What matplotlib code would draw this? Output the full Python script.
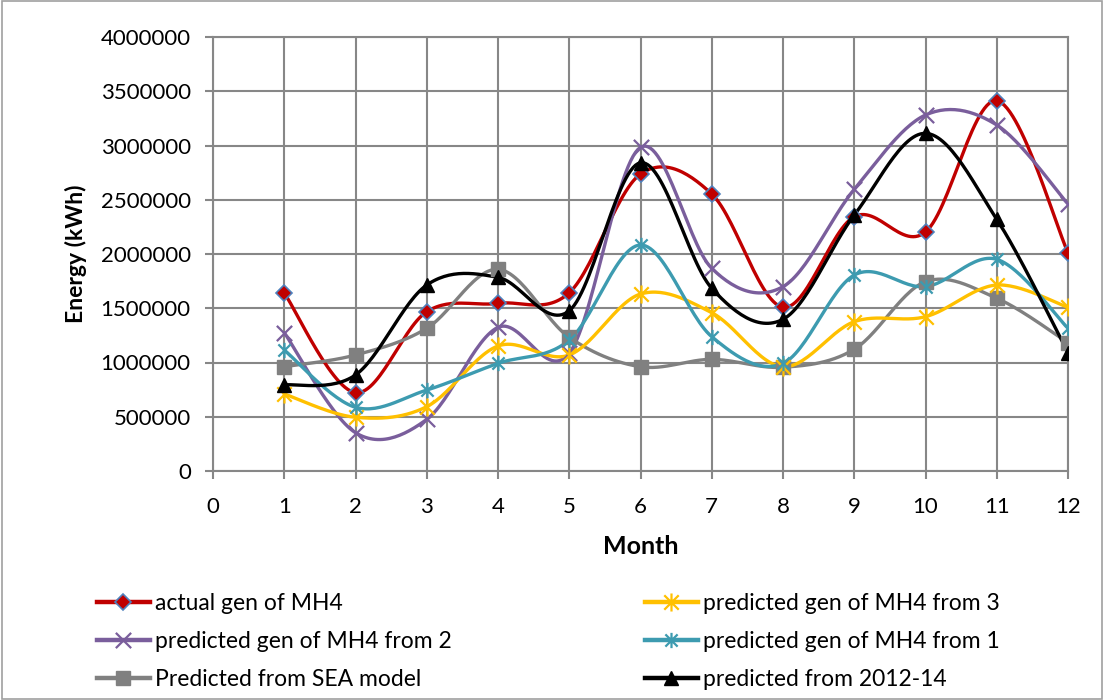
import numpy as np
import matplotlib
matplotlib.use("Agg")
import matplotlib.pyplot as plt
from matplotlib.path import Path
from matplotlib.patches import Rectangle
from matplotlib.ticker import FuncFormatter

months = list(range(1, 13))
actual_gen = [1640000, 722000, 1468000, 1545000, 1643000, 2737000, 2553000, 1509000, 2344000, 2203000, 3413000, 2012000]
pred_from_2 = [1275000, 353000, 476000, 1324000, 1085000, 2983000, 1868000, 1699000, 2596000, 3281000, 3189000, 2461000]
pred_from_3 = [710000, 495000, 593000, 1152000, 1069000, 1631000, 1459000, 961000, 1376000, 1422000, 1714000, 1509000]
pred_from_1 = [1115000, 587000, 746000, 992000, 1207000, 2083000, 1238000, 992000, 1806000, 1699000, 1951000, 1315000]
pred_sea = [961000, 1069000, 1315000, 1859000, 1232000, 961000, 1029000, 956000, 1122000, 1745000, 1592000, 1183000]
pred_2012_14 = [793000, 885000, 1714000, 1785000, 1477000, 2841000, 1684000, 1398000, 2359000, 3112000, 2320000, 1090000]

labels = ["actual gen of MH4", "predicted gen of MH4 from 2", "Predicted from SEA model",
          "predicted gen of MH4 from 3", "predicted gen of MH4 from 1", "predicted from 2012-14"]

FONT = ["Lato", "DejaVu Sans"]
plt.rcParams['font.family'] = FONT


def smooth(x, y, n=30):
    x = np.asarray(x, float)
    y = np.asarray(y, float)
    xs, ys = [x[0]], [y[0]]
    for i in range(len(x) - 1):
        p0 = np.array([x[max(i - 1, 0)], y[max(i - 1, 0)]])
        p1 = np.array([x[i], y[i]])
        p2 = np.array([x[i + 1], y[i + 1]])
        p3 = np.array([x[min(i + 2, len(x) - 1)], y[min(i + 2, len(x) - 1)]])
        c1 = p1 + (p2 - p0) / 6.0
        c2 = p2 - (p3 - p1) / 6.0
        t = np.linspace(0, 1, n)[1:]
        pts = ((1 - t) ** 3)[:, None] * p1 + (3 * (1 - t) ** 2 * t)[:, None] * c1 + \
              (3 * (1 - t) * t ** 2)[:, None] * c2 + (t ** 3)[:, None] * p2
        xs.extend(pts[:, 0]); ys.extend(pts[:, 1])
    return np.array(xs), np.array(ys)


star_path = Path([(-1, -1), (1, 1), (-1, 1), (1, -1), (0, -1.25), (0, 1.25)],
                 [Path.MOVETO, Path.LINETO, Path.MOVETO, Path.LINETO, Path.MOVETO, Path.LINETO])
x_path = Path([(-1, -1), (1, 1), (-1, 1), (1, -1)],
              [Path.MOVETO, Path.LINETO, Path.MOVETO, Path.LINETO])

fig = plt.figure(figsize=(11.04, 7.0), dpi=100)
ax = fig.add_axes([213 / 1104, 1 - 471 / 700, (1068 - 213) / 1104, (471 - 37) / 700])

series = [
    (actual_gen, "#C00000", dict(marker="D", ms=8, mfc="#C00000", mec="#4F81BD", mew=1.2)),
    (pred_from_2, "#7A5E9C", dict(marker=x_path, ms=11, mfc="none", mec="#7A5E9C", mew=1.6)),
    (pred_sea, "#808080", dict(marker="s", ms=10, mfc="#808080", mec="#808080")),
    (pred_from_3, "#FFC000", dict(marker=star_path, ms=13, mfc="none", mec="#FFC000", mew=1.6)),
    (pred_from_1, "#3D9BB0", dict(marker=star_path, ms=11, mfc="none", mec="#3D9BB0", mew=1.6)),
    (pred_2012_14, "#000000", dict(marker="^", ms=10, mfc="#000000", mec="#000000")),
]

handles = []
for (vals, col, mk), lab in zip(series, labels):
    xs, ys = smooth(months, vals)
    ax.plot(xs, ys, color=col, lw=2.4, solid_capstyle="round", zorder=3)
    ax.plot(months, vals, ls="none", zorder=4, **mk)
    h, = ax.plot([], [], color=col, lw=3.2, label=lab, **mk)
    handles.append(h)

ax.set_xlim(0, 12)
ax.set_ylim(0, 4000000)
ax.set_xticks(range(0, 13))
ax.set_yticks(np.arange(0, 4000001, 500000))
ax.yaxis.set_major_formatter(FuncFormatter(lambda v, p: f"{int(v)}"))
ax.grid(True, color="#878787", lw=1.5, zorder=0)
ax.set_axisbelow(True)
for s in ax.spines.values():
    s.set_color("#878787")
    s.set_linewidth(1.5)
ax.tick_params(axis="both", length=6, width=1.5, color="#878787", labelsize=16)
ax.tick_params(axis="x", pad=13)
ax.tick_params(axis="y", pad=10)
ax.set_xlabel("Month", fontsize=18, fontweight="bold", labelpad=13)
ax.set_ylabel("Energy (kWh)", fontsize=16.5, fontweight="bold", labelpad=10)

fs = 16.5
common = dict(loc="upper left", frameon=False, fontsize=fs, handlelength=2.3,
              handletextpad=0.25, labelspacing=0.75, borderpad=0, borderaxespad=0)
leg1 = fig.legend(handles=handles[:3], labels=labels[:3],
                  bbox_to_anchor=(97 / 1104, 1 - 593 / 700), **common)
leg2 = fig.legend(handles=handles[3:], labels=labels[3:],
                  bbox_to_anchor=(645 / 1104, 1 - 593 / 700), **common)

fig.patches.append(Rectangle((0.002, 0.002), 0.996, 0.996, transform=fig.transFigure,
                             fill=False, edgecolor="#A0A0A0", lw=1.2))

fig.savefig("out.png", dpi=100)
